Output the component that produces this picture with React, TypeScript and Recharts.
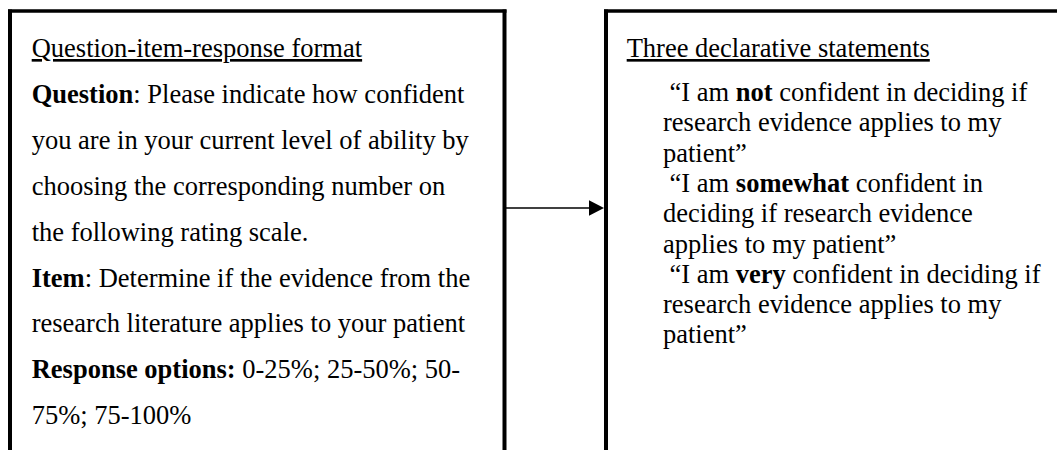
import React from "react";
import {
  ComposedChart,
  XAxis,
  YAxis,
  Scatter,
  ReferenceLine,
  ReferenceDot,
} from "recharts";

// text of the two panels; **bold**, __underlined__
const leftLines = [
  "__Question-item-response format__",
  "**Question**: Please indicate how confident",
  "you are in your current level of ability by",
  "choosing the corresponding number on",
  "the following rating scale.",
  "**Item**: Determine if the evidence from the",
  "research literature applies to your patient",
  "**Response options:** 0-25%; 25-50%; 50-",
  "75%; 75-100%",
];

const rightLines = [
  "__Three declarative statements__",
  "“I am **not** confident in deciding if",
  "research evidence applies to my",
  "patient”",
  "“I am **somewhat** confident in",
  "deciding if research evidence",
  "applies to my patient”",
  "“I am **very** confident in deciding if",
  "research evidence applies to my",
  "patient”",
];

const W = 1057;
const H = 450;
const FONT = "'Liberation Serif', 'Times New Roman', serif";
const FS = 26.5;

const LEFT_X = 31.7;
const LEFT_TOP = 57;
const LEFT_STEP = 45.9;
const RIGHT_X = 626.7;
const RIGHT_BODY_X = 663;
const RIGHT_BODY_TOP = 101;
const RIGHT_STEP = 30.3;

const leftRows = leftLines.map((t, i) => ({
  x: LEFT_X,
  y: LEFT_TOP + i * LEFT_STEP,
  t,
}));

const rightRows = rightLines.map((t, i) => ({
  x: i === 0 ? RIGHT_X : t.startsWith("“") ? RIGHT_BODY_X + 6.6 : RIGHT_BODY_X,
  y: i === 0 ? LEFT_TOP : RIGHT_BODY_TOP + (i - 1) * RIGHT_STEP,
  t,
}));

function parts(s: string) {
  const out: { text: string; bold: boolean }[] = [];
  s.split("**").forEach((p, i) => {
    if (p) out.push({ text: p, bold: i % 2 === 1 });
  });
  return out;
}

const TextLine = (props: any) => {
  const { cx, cy, payload } = props;
  if (cx == null || cy == null) return null;
  const under = payload.t.startsWith("__");
  const raw = under ? payload.t.replace(/__/g, "") : payload.t;
  return (
    <text
      x={cx}
      y={cy}
      fontFamily={FONT}
      fontSize={FS}
      fill="#000"
      textDecoration={under ? "underline" : undefined}
    >
      {parts(raw).map((p, i) => (
        <tspan key={i} fontWeight={p.bold ? "bold" : "normal"}>
          {p.text}
        </tspan>
      ))}
    </text>
  );
};

const Arrowhead = (props: any) => {
  const { cx, cy } = props;
  return (
    <polygon
      points={`${cx},${cy} ${cx - 15},${cy - 7.7} ${cx - 15},${cy + 7.7}`}
      fill="#000"
    />
  );
};

const edge = { stroke: "#000", ifOverflow: "visible" as const };

export default function App() {
  return (
    <div style={{ position: "absolute", left: 0, top: 0, background: "#fff" }}>
      <ComposedChart
        width={W}
        height={H}
        margin={{ top: 0, right: 0, bottom: 0, left: 0 }}
      >
        <XAxis type="number" dataKey="x" domain={[0, W]} hide />
        <YAxis type="number" dataKey="y" domain={[0, H]} reversed hide />

        {/* left box */}
        <ReferenceLine {...edge} strokeWidth={3.5} segment={[{ x: 8, y: 11 }, { x: 506.5, y: 11 }]} />
        <ReferenceLine {...edge} strokeWidth={4} segment={[{ x: 10, y: 9.5 }, { x: 10, y: H }]} />
        <ReferenceLine {...edge} strokeWidth={4} segment={[{ x: 504.5, y: 9.5 }, { x: 504.5, y: H }]} />

        {/* right box, runs off the right edge */}
        <ReferenceLine {...edge} strokeWidth={3.5} segment={[{ x: 604, y: 11 }, { x: W, y: 11 }]} />
        <ReferenceLine {...edge} strokeWidth={4} segment={[{ x: 606, y: 9.5 }, { x: 606, y: H }]} />

        {/* arrow */}
        <ReferenceLine {...edge} strokeWidth={1.5} segment={[{ x: 506, y: 208 }, { x: 592, y: 208 }]} />
        <ReferenceDot x={604} y={208} ifOverflow="visible" shape={<Arrowhead />} />

        <Scatter data={leftRows} shape={<TextLine />} isAnimationActive={false} />
        <Scatter data={rightRows} shape={<TextLine />} isAnimationActive={false} />
      </ComposedChart>
    </div>
  );
}
